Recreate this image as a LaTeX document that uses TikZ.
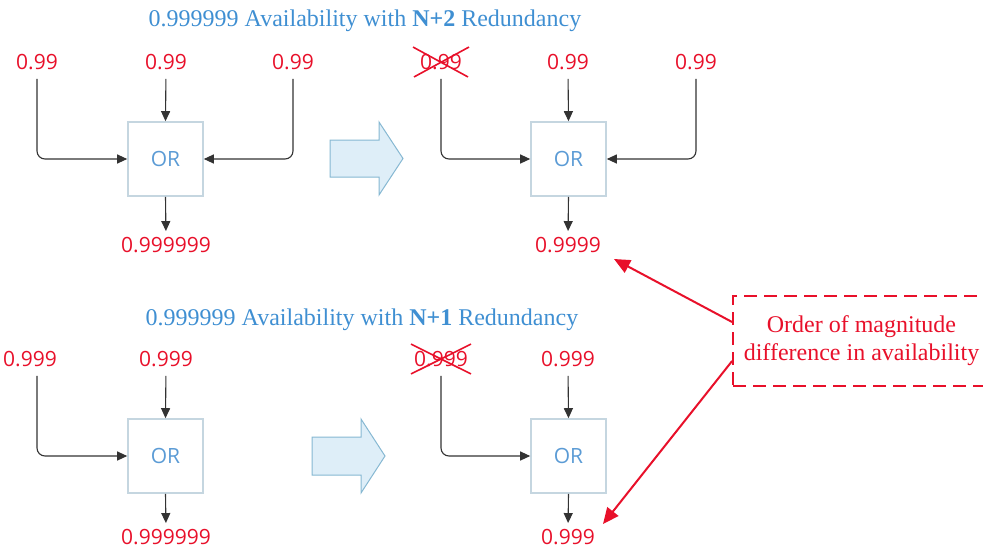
\documentclass[tikz,border=0pt]{standalone}
\usepackage{fontspec}
\setmainfont{Liberation Serif}
\newfontfamily\labelfont{Open Sans}
\usetikzlibrary{arrows.meta}

\definecolor{valred}{HTML}{E8102A}
\definecolor{titleblue}{HTML}{3F8FD2}
\definecolor{orblue}{HTML}{5B9BD5}
\definecolor{boxline}{HTML}{C5D6E0}
\definecolor{wiregray}{HTML}{333333}
\definecolor{arrowfill}{HTML}{DEEEF8}
\definecolor{arrowline}{HTML}{86B8D2}
\definecolor{noteline}{HTML}{E8102A}

\begin{document}
\begin{tikzpicture}[x=1pt,y=-1pt,
  val/.style={text=valred, font=\labelfont\fontsize{21}{24}\selectfont, inner sep=0pt},
  orbox/.style={draw=boxline, line width=1.6pt, minimum width=75pt, minimum height=74pt,
    text=orblue, font=\labelfont\fontsize{21}{24}\selectfont, inner sep=0pt},
  wire/.style={draw=wiregray, line width=1.1pt, rounded corners=8pt,
    -{Triangle[length=10pt,width=9pt]}, shorten <=9pt},
  outwire/.style={draw=wiregray, line width=1.1pt,
    -{Triangle[length=10pt,width=9pt]}, shorten >=6pt},
  heading/.style={text=titleblue, font=\fontsize{24}{28}\selectfont, inner sep=0pt},
  crossout/.style={draw=valred, line width=1.6pt},
  blockarrow/.style={draw=arrowline, fill=arrowfill, line width=1pt},
  note/.style={draw=noteline, line width=1.8pt, dash pattern=on 13pt off 7pt,
    minimum width=257pt, minimum height=90pt, align=center, text=valred,
    font=\fontsize{24}{28}\selectfont},
  pointer/.style={draw=valred, line width=2pt, -{Triangle[length=16pt,width=14pt]}}
]
\useasboundingbox (0,0) rectangle (983,550);

% ---------- N+2 redundancy ----------
\node[heading] (t1) at (365,21) {0.999999 Availability with \textbf{N+2} Redundancy};

\node[orbox] (or1) at (165.5,159) {OR};
\node[val] (a1) at (37,62) {0.99};
\node[val] (b1) at (166,62) {0.99};
\node[val] (c1) at (293,62) {0.99};
\node[val] (o1) at (166,245) {0.999999};
\draw[wire] (a1.south) |- (or1.west);
\draw[wire] (b1.south) -- (or1.north);
\draw[wire] (c1.south) |- (or1.east);
\draw[outwire] (or1.south) -- (o1.north);

\draw[blockarrow] (330,140) -- (379,140) -- (379,122) -- (403,158.5)
  -- (379,195) -- (379,177) -- (330,177) -- cycle;

\node[orbox] (or2) at (568.5,159) {OR};
\node[val] (a2) at (441,62) {0.99};
\node[val] (b2) at (568,62) {0.99};
\node[val] (c2) at (696,62) {0.99};
\node[val] (o2) at (568,245) {0.9999};
\draw[crossout] ([shift={(-7,-7)}]a2.north west) -- ([shift={(6,7)}]a2.south east);
\draw[crossout] ([shift={(-6,7)}]a2.south west) -- ([shift={(7,-7)}]a2.north east);
\draw[wire] (a2.south) |- (or2.west);
\draw[wire] (b2.south) -- (or2.north);
\draw[wire] (c2.south) |- (or2.east);
\draw[outwire] (or2.south) -- (o2.north);

% ---------- N+1 redundancy ----------
\node[heading] (t2) at (362,320) {0.999999 Availability with \textbf{N+1} Redundancy};

\node[orbox] (or3) at (165.5,456) {OR};
\node[val] (a3) at (30,359) {0.999};
\node[val] (b3) at (166,359) {0.999};
\node[val] (o3) at (166,537) {0.999999};
\draw[wire] (a3.south -| 37,0) |- (or3.west);
\draw[wire] (b3.south) -- (or3.north);
\draw[outwire] (or3.south) -- (o3.north);

\draw[blockarrow] (312,437) -- (361,437) -- (361,419) -- (385,456)
  -- (361,493) -- (361,475) -- (312,475) -- cycle;

\node[orbox] (or4) at (568.5,456) {OR};
\node[val] (a4) at (441,359) {0.999};
\node[val] (b4) at (568,359) {0.999};
\node[val] (o4) at (568,537) {0.999};
\draw[crossout] ([shift={(-3,-7)}]a4.north west) -- ([shift={(3,7)}]a4.south east);
\draw[crossout] ([shift={(-3,7)}]a4.south west) -- ([shift={(3,-7)}]a4.north east);
\draw[wire] (a4.south) |- (or4.west);
\draw[wire] (b4.south) -- (or4.north);
\draw[outwire] (or4.south) -- (o4.north);

% ---------- callout ----------
\node[note] (n) at (861.5,341) {Order of magnitude\\difference in availability};
\coordinate (p1) at (614,259);
\coordinate (p2) at (603,524);
\draw[pointer] ([shift={(0,-19)}]n.west) -- (p1);
\draw[pointer] ([shift={(0,20)}]n.west) -- (p2);
\end{tikzpicture}
\end{document}
